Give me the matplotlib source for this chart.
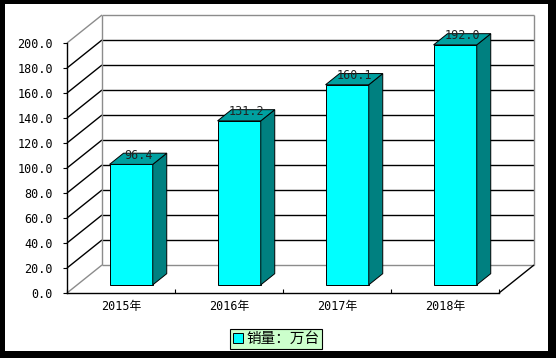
import numpy as np
import matplotlib
matplotlib.use('Agg')
import matplotlib.pyplot as plt
from matplotlib.patches import Rectangle, Patch

years = ['2015年', '2016年', '2017年', '2018年']
sales = [96.4, 131.2, 160.1, 192.0]
yticks = [0, 20, 40, 60, 80, 100, 120, 140, 160, 180, 200]
legend_label = '销量：万台'

W, H = 556, 358
DX, DY = 0.324, 22.4   # full depth of the 3d box, in data units
D0, D1 = 0.29, 0.69    # bar depth range (fraction)
num_font = ['DejaVu Sans Mono', 'Noto Sans CJK SC']

fig = plt.figure(figsize=(W / 100, H / 100), dpi=100, facecolor='black')
fig.add_artist(Rectangle((5 / W, 7 / H), 543 / W, 347 / H, transform=fig.transFigure,
                         facecolor='white', edgecolor='none', zorder=0))

ax = fig.add_axes([67 / W, 1 - 293 / H, (499 - 67) / W, (293 - 43) / H])
ax.patch.set_visible(False)
ax.set_xlim(0, 4)
ax.set_ylim(0, 200)


def pt(x, y, d):
    return (x + d * DX, y + d * DY)


def line(p, q, color, lw=1.0):
    ax.plot([p[0], q[0]], [p[1], q[1]], color=color, lw=lw, clip_on=False, zorder=1,
            solid_capstyle='butt')


grey = '#8c8c8c'
n = len(years)
# walls
for v in yticks:
    c = grey if v in (0, 200) else 'black'
    line(pt(0, v, 0), pt(0, v, 1), c)
    line(pt(0, v, 1), pt(n, v, 1), c)
line(pt(0, 0, 1), pt(0, 200, 1), grey)
line(pt(n, 0, 1), pt(n, 200, 1), grey)
line(pt(n, 0, 0), pt(n, 0, 1), 'black')

# bars
for i, v in enumerate(sales):
    x0, x1 = i + 0.3, i + 0.7
    front = [pt(x0, 0, D0), pt(x1, 0, D0), pt(x1, v, D0), pt(x0, v, D0)]
    side = [pt(x1, 0, D0), pt(x1, 0, D1), pt(x1, v, D1), pt(x1, v, D0)]
    top = [pt(x0, v, D0), pt(x1, v, D0), pt(x1, v, D1), pt(x0, v, D1)]
    for poly, col in ((front, '#00ffff'), (side, '#008080'), (top, '#00a0a0')):
        xs, ys = zip(*poly)
        ax.fill(xs, ys, facecolor=col, edgecolor='black', lw=0.7, clip_on=False, zorder=3)
    cx, cy = pt(i + 0.5, v, (D0 + D1) / 2)
    ax.text(cx, cy + 3, f'{v:.1f}', ha='center', va='center', fontsize=8.5,
            family=num_font, color='#222222', zorder=4)

for s in ('top', 'right'):
    ax.spines[s].set_visible(False)
for s in ('left', 'bottom'):
    ax.spines[s].set_linewidth(1.0)
    ax.spines[s].set_zorder(2)

ax.set_yticks(yticks)
ax.set_yticklabels([f'{v:.1f}' for v in yticks], family=num_font, fontsize=8.5)
ax.tick_params(axis='y', length=3, width=0.8, pad=7)
ax.set_xticks(range(n + 1))
ax.set_xticklabels([])
ax.set_xticks(np.arange(n) + 0.5, minor=True)
ax.set_xticklabels(years, minor=True, family=num_font, fontsize=8.5)
ax.tick_params(axis='x', which='major', length=3, width=0.8, direction='in')
ax.tick_params(axis='x', which='minor', length=0, pad=5)

handle = Patch(facecolor='#00ffff', edgecolor='black', lw=0.7)
leg = fig.legend([handle], [legend_label], loc='center', bbox_to_anchor=(276 / W, 1 - 339 / H),
                 prop={'family': 'Noto Sans CJK SC', 'size': 10.5}, frameon=True, fancybox=False,
                 handlelength=0.7, handleheight=0.7, handletextpad=0.25, borderpad=0.2,
                 borderaxespad=0)
leg.get_frame().set_facecolor('#ccffcc')
leg.get_frame().set_edgecolor('black')
leg.get_frame().set_linewidth(0.8)
leg.get_frame().set_alpha(1)

fig.savefig('out.png', dpi=100, facecolor='black')
